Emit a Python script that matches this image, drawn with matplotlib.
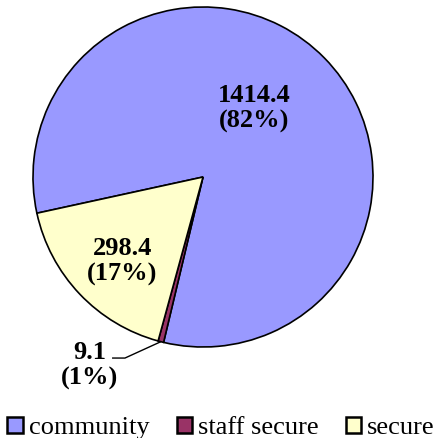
import numpy as np
import matplotlib
matplotlib.use("Agg")
import matplotlib.pyplot as plt

# Data
categories = ["community", "staff secure", "secure"]
values = [1414.4, 9.1, 298.4]
pct_labels = ["82%", "1%", "17%"]
colors = ["#9999FF", "#993366", "#FFFFCC"]

plt.rcParams["font.family"] = ["Liberation Serif", "DejaVu Serif"]

fig = plt.figure(figsize=(4.36, 4.38), dpi=100)
R = 170.0
cx, cy = 203.0, 177.0
ax = fig.add_axes([(cx - R) / 436, (438 - cy - R) / 438, 2 * R / 436, 2 * R / 438])

wedges, _ = ax.pie(values, colors=colors, startangle=192.3, counterclock=False,
                   radius=1.0, wedgeprops=dict(edgecolor="black", linewidth=1.2))
ax.set_xlim(-1, 1)
ax.set_ylim(-1, 1)
ax.set_aspect("equal")
ax.axis("off")

labels = [f"{v}\n({p})" for v, p in zip(values, pct_labels)]

# label placement (angle offset from wedge middle, radius fraction)
place = {0: (9.5, 0.51), 2: (2.2, 0.68)}
for i, (dang, rf) in place.items():
    w = wedges[i]
    mid = np.deg2rad((w.theta1 + w.theta2) / 2 + dang)
    ax.text(rf * np.cos(mid), rf * np.sin(mid) - 0.01, labels[i], ha="center", va="center",
            fontsize=19, fontweight="bold", linespacing=1.15)

# staff secure: outside label with leader line
w = wedges[1]
mid = np.deg2rad((w.theta1 + w.theta2) / 2)
p0 = (np.cos(mid), np.sin(mid))
ax.plot([p0[0], -0.459, -0.535], [p0[1], -1.065, -1.065], color="black", lw=1.0,
        clip_on=False, solid_capstyle="butt")
ax.text(-0.665, -1.11, labels[1], ha="center", va="center", fontsize=19,
        fontweight="bold", linespacing=1.15, clip_on=False)

leg = fig.legend(wedges, categories, loc="center",
                 bbox_to_anchor=(0.5 + 3 / 436, 1 - 428 / 438),
                 ncol=3, frameon=False, fontsize=19, handlelength=0.58, handleheight=0.55,
                 handletextpad=0.22, columnspacing=1.04, borderaxespad=0, borderpad=0)
for h in leg.legend_handles:
    h.set_linewidth(1.8)

fig.savefig("out.png", dpi=100)
